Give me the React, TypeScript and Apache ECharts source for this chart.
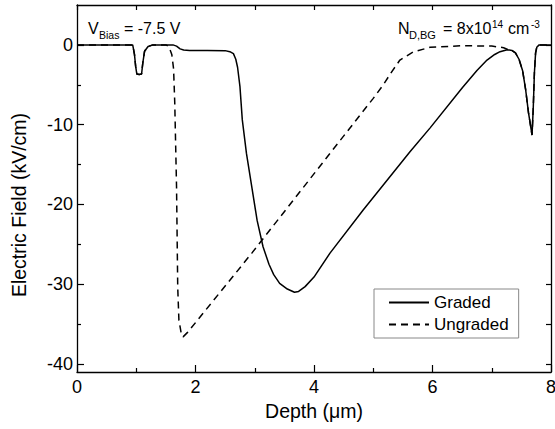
import React, { useEffect, useRef } from "react";
import * as echarts from "echarts";

const FONT = "Liberation Sans";

// Graded (solid)
const gradedX = [0, 0.94, 0.97, 0.99, 1.01, 1.05, 1.09, 1.11, 1.14, 1.2, 1.28, 1.55, 1.62, 1.68, 1.74, 1.8, 1.9, 2.2, 2.5, 2.58, 2.64, 2.68, 2.71, 2.75, 2.79, 2.86, 2.95, 3.04, 3.14, 3.24, 3.32, 3.42, 3.55, 3.67, 3.74, 3.85, 4.0, 4.27, 4.83, 5.62, 5.96, 6.51, 6.75, 6.92, 7.05, 7.14, 7.26, 7.34, 7.4, 7.46, 7.52, 7.57, 7.62, 7.68, 7.7, 7.72, 7.74, 7.76, 7.8, 8.0];
const gradedY = [0, 0, -1.2, -2.7, -3.65, -3.7, -3.65, -2.3, -0.8, -0.2, 0, 0, 0, -0.15, -0.5, -0.65, -0.7, -0.7, -0.72, -0.85, -1.1, -1.8, -2.8, -5.2, -9.4, -13.6, -17.8, -22, -25.3, -27.5, -28.8, -29.9, -30.6, -31.0, -30.9, -30.3, -29.1, -26.1, -20.7, -13.4, -10.4, -5.3, -3.2, -1.9, -1.2, -0.85, -0.6, -0.7, -1.0, -1.8, -3.2, -5.5, -8.5, -11.3, -8, -3.5, -1.0, -0.3, 0, 0];

// Ungraded (dashed)
const ungradedX = [0, 0.94, 0.97, 0.99, 1.01, 1.05, 1.09, 1.11, 1.14, 1.2, 1.28, 1.5, 1.55, 1.6, 1.63, 1.65, 1.68, 1.7, 1.72, 1.76, 1.79, 1.87, 2.58, 2.95, 4.27, 5.0, 5.17, 5.3, 5.45, 5.67, 5.96, 6.5, 7.0, 7.2, 7.3, 7.34, 7.4, 7.46, 7.52, 7.57, 7.62, 7.68, 7.7, 7.72, 7.74, 7.76, 7.8, 8.0];
const ungradedY = [0, 0, -1.2, -2.7, -3.65, -3.7, -3.65, -2.3, -0.8, -0.2, 0, 0, -0.2, -1.2, -3, -7.3, -17.8, -30.4, -34.5, -36.2, -36.6, -36, -29.5, -26.1, -13.6, -6.7, -5.0, -3.5, -1.9, -0.9, -0.3, -0.1, -0.15, -0.35, -0.65, -0.7, -1.0, -1.8, -3.2, -5.5, -8.5, -11.3, -8, -3.5, -1.0, -0.3, 0, 0];

const yMajor = [-40, -30, -20, -10, 0];
const yMinor = [-35, -25, -15, -5];
const yRight = [-40, -35, -30, -25, -20, -15, -10, -5, 0];

const seriesNames = ["Graded", "Ungraded"];

function zip(xs: number[], ys: number[]) {
  return xs.map((x, i) => [x, ys[i]]);
}

export default function App() {
  const ref = useRef<HTMLDivElement>(null);
  useEffect(() => {
    document.body.style.margin = "0";
    if (!ref.current) return;
    const chart = echarts.init(ref.current, undefined, { renderer: "svg" });
    const axisLine = { show: true, onZero: false, lineStyle: { color: "#000", width: 1.3 } };
    const yCommon = { type: "value" as const, min: -41, max: 5, splitLine: { show: false } };
    const txt = (text: string, x: number, y: number, fontSize: number, extra: any = {}) => ({
      type: "text",
      x,
      y,
      ...extra,
      style: { text, fontSize, fontFamily: FONT, fill: "#000", align: "left", verticalAlign: "middle", ...(extra.style || {}) },
    });
    chart.setOption({
      animation: false,
      textStyle: { fontFamily: FONT },
      grid: { left: 77, right: 4, top: 5, bottom: 57, containLabel: false, outerBoundsMode: "none" },
      legend: {
        data: seriesNames,
        orient: "vertical",
        left: 374,
        top: 289,
        itemWidth: 40,
        itemHeight: 14,
        itemGap: 5,
        padding: [5, 10, 5, 14],
        borderColor: "#888",
        borderWidth: 1,
        itemStyle: { color: "rgba(0,0,0,0)", borderColor: "rgba(0,0,0,0)", borderWidth: 0 },
        textStyle: { fontSize: 17, color: "#000", fontFamily: FONT },
      },
      xAxis: [
        {
          type: "value",
          min: 0,
          max: 8,
          interval: 2,
          position: "bottom",
          axisLine,
          axisTick: { show: true, inside: true, length: 7, lineStyle: { color: "#000", width: 1.2 } },
          minorTick: { show: true, splitNumber: 2, length: 4, lineStyle: { color: "#000", width: 1.2 } },
          axisLabel: { fontSize: 18, color: "#000", margin: 6, fontFamily: FONT },
          splitLine: { show: false },
          minorSplitLine: { show: false },
          name: "Depth (μm)",
          nameLocation: "middle",
          nameGap: 26,
          nameTextStyle: { fontSize: 19.5, color: "#000", fontFamily: FONT },
        },
        {
          type: "value",
          min: 0,
          max: 8,
          interval: 1,
          position: "top",
          axisLine,
          axisTick: { show: true, inside: true, length: 5, lineStyle: { color: "#000", width: 1.2 } },
          axisLabel: { show: false },
          splitLine: { show: false },
        },
      ],
      yAxis: [
        {
          ...yCommon,
          position: "left",
          offset: 0,
          axisLine,
          axisTick: { show: true, inside: true, length: 7, customValues: yMajor, lineStyle: { color: "#000", width: 1.2 } },
          axisLabel: { show: true, customValues: yMajor, fontSize: 18, color: "#000", margin: 4, fontFamily: FONT },
        },
        {
          ...yCommon,
          position: "left",
          offset: 0,
          axisLine: { show: false, onZero: false },
          axisTick: { show: true, inside: true, length: 4, customValues: yMinor, lineStyle: { color: "#000", width: 1.2 } },
          axisLabel: { show: false },
        },
        {
          ...yCommon,
          position: "right",
          offset: 0,
          axisLine,
          axisTick: { show: true, inside: true, length: 5, customValues: yRight, lineStyle: { color: "#000", width: 1.2 } },
          axisLabel: { show: false },
        },
      ],
      series: [
        {
          name: "Ungraded",
          type: "line",
          xAxisIndex: 0,
          yAxisIndex: 0,
          data: zip(ungradedX, ungradedY),
          showSymbol: false,
          symbol: "none",
          z: 2,
          lineStyle: { color: "#000", width: 1.5, type: [7, 5] },
          itemStyle: { color: "#000" },
        },
        {
          name: "Graded",
          type: "line",
          xAxisIndex: 0,
          yAxisIndex: 0,
          data: zip(gradedX, gradedY),
          showSymbol: false,
          symbol: "none",
          z: 3,
          lineStyle: { color: "#000", width: 1.5, type: "solid" },
          itemStyle: { color: "#000" },
        },
      ],
      graphic: [
        txt("Electric Field (kV/cm)", 19, 205, 19.5, { rotation: Math.PI / 2, style: { align: "center" } }),
        txt("V", 88, 28, 16),
        txt("Bias", 99, 35, 10.5),
        txt("= -7.5 V", 124, 28, 16),
        txt("N", 398, 28, 16),
        txt("D,BG", 409, 35, 11),
        txt("= 8x10", 443, 28, 16),
        txt("14", 492, 24, 10),
        txt("cm", 508, 28, 16),
        txt("-3", 531, 24, 10),
      ],
    });
    return () => chart.dispose();
  }, []);
  return <div ref={ref} style={{ width: 555, height: 429 }} />;
}
